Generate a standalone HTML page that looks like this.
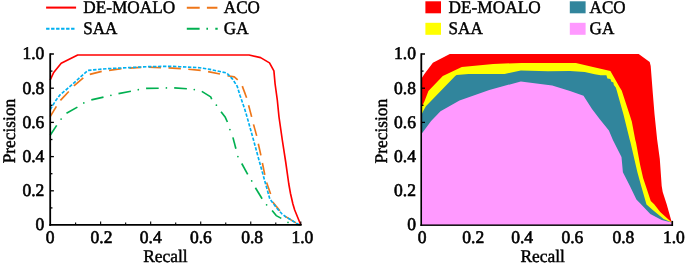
<!DOCTYPE html>
<html><head><meta charset="utf-8"><title>PR curves</title>
<style>
html,body{margin:0;padding:0;background:#fff;}
body{width:685px;height:263px;overflow:hidden;}
svg{display:block;will-change:transform;}
text{font-family:"Liberation Serif",serif;text-rendering:geometricPrecision;fill:#000;stroke:#000;stroke-width:0.45px;}
text.d{stroke-width:0.62px;}
</style></head><body>
<svg width="685" height="263" viewBox="0 0 685 263">
<rect width="685" height="263" fill="#fff"/>

<g fill="none" stroke-width="1.65" stroke-linejoin="round">
<polyline points="50.2,135.3 56.7,125.4" stroke="#00b050"/>
<polyline points="66.5,113.3 77.4,107.1" stroke="#00b050"/>
<polyline points="91.3,99.9 103.5,97.1" stroke="#00b050"/>
<polyline points="118.5,93.6 130.9,91.2" stroke="#00b050"/>
<polyline points="146.1,88.4 158.7,88.2" stroke="#00b050"/>
<polyline points="174.2,87.9 186.9,88.7" stroke="#00b050"/>
<polyline points="201.8,91.4 210.7,96.9 211.7,99.3" stroke="#00b050"/>
<polyline points="221.05,111.7 225.3,117.3 227.4,122" stroke="#00b050"/>
<polyline points="232.9,137.4 235.9,148.7" stroke="#00b050"/>
<polyline points="241.75,163.5 247.7,174.4" stroke="#00b050"/>
<polyline points="255.4,187.8 262.1,198.7" stroke="#00b050"/>
<polyline points="272.1,210.4 276.2,215.6 281.3,218.4" stroke="#00b050"/>
<polyline points="295.8,224.2 300.8,225" stroke="#00b050"/>
<circle cx="61.1" cy="119.1" r="0.85" fill="#00b050" stroke="none"/>
<circle cx="83.8" cy="102.9" r="0.85" fill="#00b050" stroke="none"/>
<circle cx="110.9" cy="95.3" r="0.85" fill="#00b050" stroke="none"/>
<circle cx="138.3" cy="89.7" r="0.85" fill="#00b050" stroke="none"/>
<circle cx="166.4" cy="87.9" r="0.85" fill="#00b050" stroke="none"/>
<circle cx="194.3" cy="89.6" r="0.85" fill="#00b050" stroke="none"/>
<circle cx="216.4" cy="105.2" r="0.85" fill="#00b050" stroke="none"/>
<circle cx="229.9" cy="129.6" r="0.85" fill="#00b050" stroke="none"/>
<circle cx="237.9" cy="156.6" r="0.85" fill="#00b050" stroke="none"/>
<circle cx="251.7" cy="180.9" r="0.85" fill="#00b050" stroke="none"/>
<circle cx="266.6" cy="204.8" r="0.85" fill="#00b050" stroke="none"/>
<circle cx="288" cy="222.4" r="0.85" fill="#00b050" stroke="none"/>
<polyline points="50.2,116.6 56.4,106.4" stroke="#ee7618"/>
<polyline points="60.4,100.4 68.8,91.5" stroke="#ee7618"/>
<polyline points="73.9,85.9 83.3,77.9" stroke="#ee7618"/>
<polyline points="89.8,74.4 101.7,71.4" stroke="#ee7618"/>
<polyline points="109.05,70.4 121.45,68.7" stroke="#ee7618"/>
<polyline points="129.3,68.1 141.2,67.4" stroke="#ee7618"/>
<polyline points="148.7,67.1 161.05,67.7" stroke="#ee7618"/>
<polyline points="168.5,67.9 180.9,68.6" stroke="#ee7618"/>
<polyline points="188.3,69.2 200.7,70.4" stroke="#ee7618"/>
<polyline points="208.1,71.6 220,74" stroke="#ee7618"/>
<polyline points="227.4,75.7 234.3,76.9 237.7,79.9" stroke="#ee7618"/>
<polyline points="242.3,86.1 246.6,97.7" stroke="#ee7618"/>
<polyline points="248.6,105.2 251.65,116.9" stroke="#ee7618"/>
<polyline points="253.5,124.4 256.7,135.9" stroke="#ee7618"/>
<polyline points="258.3,143.8 260.9,155.4" stroke="#ee7618"/>
<polyline points="262.4,163 264.8,174.9" stroke="#ee7618"/>
<polyline points="266.6,182.4 270.6,193.9" stroke="#ee7618"/>
<polyline points="272.7,201.9 279.9,210.7" stroke="#ee7618"/>
<polyline points="284.9,216.1 295.9,222.9" stroke="#ee7618"/>
<polyline points="50.3,109.6 55.4,101 59.9,95 65.9,90 69.4,87 87.8,70.4 107,68.7 127.8,67.7 147.7,66.7 162,66.4 173,66.4 179.9,66.7 199.7,67.7 209.9,69.4 219.9,71.5 226.8,73.0 232.8,79.4 237.2,86.3 240,95.5 244.6,108.8 247.2,117.5 253.5,140 260.2,164.5 265.6,184 269.8,198.9 272.5,202.4 275.5,206.4 278.7,210.4 281.9,213.8 285.7,216.9 290,219.3 294.6,222.1 298.2,224.2 300.8,225" stroke="#00b0f0" stroke-dasharray="3.4 1.6"/>
<polyline points="50.2,80 53.5,72.8 61.2,63.3 77.7,54.95 249.1,54.95 260.6,57.6 269.5,62.9 273.9,70.9 275.1,84 277.3,100 279,117 282.3,140 285.7,162 288.8,184 290.5,193.5 292.9,204 294.7,210 300.8,225" stroke="#ff0000"/>
</g>
<g stroke="#000" fill="none" stroke-linecap="butt">
<path d="M49.30,224.88 H301.7" stroke-width="1.55"/>
<path d="M50.20,225.9 V53.3" stroke-width="1.8"/>
<path d="M75.62,225.0 v-2.5" stroke-width="1.1"/>
<path d="M50.20,207.90 h2.25" stroke-width="1.3"/>
<path d="M100.64,225.0 v-3.4" stroke-width="1.1"/>
<path d="M50.20,190.80 h3.7" stroke-width="1.3"/>
<path d="M125.66,225.0 v-2.5" stroke-width="1.1"/>
<path d="M50.20,173.70 h2.25" stroke-width="1.3"/>
<path d="M150.68,225.0 v-3.4" stroke-width="1.1"/>
<path d="M50.20,156.60 h3.7" stroke-width="1.3"/>
<path d="M175.70,225.0 v-2.5" stroke-width="1.1"/>
<path d="M50.20,139.50 h2.25" stroke-width="1.3"/>
<path d="M200.72,225.0 v-3.4" stroke-width="1.1"/>
<path d="M50.20,122.40 h3.7" stroke-width="1.3"/>
<path d="M225.74,225.0 v-2.5" stroke-width="1.1"/>
<path d="M50.20,105.30 h2.25" stroke-width="1.3"/>
<path d="M250.76,225.0 v-3.4" stroke-width="1.1"/>
<path d="M50.20,88.20 h3.7" stroke-width="1.3"/>
<path d="M275.78,225.0 v-2.5" stroke-width="1.1"/>
<path d="M50.20,71.10 h2.25" stroke-width="1.3"/>
<path d="M300.80,225.0 v-3.4" stroke-width="1.1"/>
<path d="M50.20,54.00 h3.7" stroke-width="1.5"/>
</g>
<text transform="translate(50.0,242.6) scale(0.985,1)" text-anchor="middle" font-size="17.8" class="d">0</text>
<text transform="translate(44.3,230.35) scale(0.985,1)" text-anchor="end" font-size="17.8" class="d">0</text>
<text transform="translate(101.54,242.6) scale(0.985,1)" text-anchor="middle" font-size="17.8" class="d">0.2</text>
<text transform="translate(44.3,196.15) scale(0.985,1)" text-anchor="end" font-size="17.8" class="d">0.2</text>
<text transform="translate(150.78,242.6) scale(0.985,1)" text-anchor="middle" font-size="17.8" class="d">0.4</text>
<text transform="translate(44.3,161.95) scale(0.985,1)" text-anchor="end" font-size="17.8" class="d">0.4</text>
<text transform="translate(200.82,242.6) scale(0.985,1)" text-anchor="middle" font-size="17.8" class="d">0.6</text>
<text transform="translate(44.3,127.75) scale(0.985,1)" text-anchor="end" font-size="17.8" class="d">0.6</text>
<text transform="translate(252.16,242.6) scale(0.985,1)" text-anchor="middle" font-size="17.8" class="d">0.8</text>
<text transform="translate(44.3,93.55) scale(0.985,1)" text-anchor="end" font-size="17.8" class="d">0.8</text>
<text transform="translate(302.4,242.6) scale(0.985,1)" text-anchor="middle" font-size="17.8" class="d">1.0</text>
<text transform="translate(44.3,59.35) scale(0.985,1)" text-anchor="end" font-size="17.8" class="d">1.0</text>
<text transform="translate(14.5,163.3) rotate(-90) scale(0.975,1)" font-size="17.8">Precision</text>
<text transform="translate(143.2,261.5) scale(0.98,1)" text-anchor="start" font-size="17.8" >Recall</text>
<g fill="none" stroke-width="2.05">
<path d="M46.1,7.6 H76.1" stroke="#ff0000"/>
<path d="M46.1,28.75 H76.1" stroke="#00b0f0" stroke-dasharray="3.4 1.6"/>
<path d="M186.8,7.7 H217.4" stroke="#ee7618" stroke-dasharray="12.9 7.2"/>
<path d="M186.8,28.75 H217.7" stroke="#00b050" stroke-dasharray="12.8 6.8 1.6 7.3"/>
</g>
<text transform="translate(83.2,13.35) scale(0.971,1)" text-anchor="start" font-size="17.8" >DE-MOALO</text>
<text transform="translate(83.2,34.3) scale(0.96,1)" text-anchor="start" font-size="17.8" >SAA</text>
<text transform="translate(223.8,13.35) scale(0.96,1)" text-anchor="start" font-size="17.8" >ACO</text>
<text transform="translate(223.8,34.3) scale(0.96,1)" text-anchor="start" font-size="17.8" >GA</text>
<polygon points="421.5,225.0 421.5,78.5 424.2,74.3 432.9,62.7 449.8,54.0 638.7,54.0 649.7,62 650.7,66 652.7,92 654.5,114 657.2,140 659.8,159 661.7,186 662.7,192 666.6,204 671.6,221.8 671.6,225.0" fill="#ff0000"/>
<polygon points="421.5,225.0 421.5,107.5 424.6,101 428.4,90.9 442.8,76 461.8,67.1 493.2,63.9 521.7,62.9 575.9,63.1 593,67.1 610.4,71 619.8,87.4 621.7,90.5 629.4,114 631.8,121.4 635.3,140 636,142.5 640.1,164.7 643.1,178 645.8,186 650.75,200.9 654.2,204.3 660.2,211.9 671.6,222.2 671.6,225.0" fill="#ffff00"/>
<polygon points="421.5,225.0 421.5,114.5 423.5,110.5 425.9,106.2 455.2,76 456.6,75.1 468.5,74.1 504.6,74.1 520.8,70.4 548,71.2 570,71.1 584.7,72 594.7,74.3 600.6,75.3 606.4,75.3 607.4,78.4 610.4,78.9 611.4,81.7 613.4,82.4 613.8,84.9 615.8,87.4 616.6,90 623.6,115 629.8,140 630.5,142.5 637.4,172.3 640.9,185 646.5,204.4 652.75,210 663.7,218.9 671.6,222.4 671.6,225.0" fill="#31859c"/>
<g stroke="#000" fill="none" stroke-linecap="butt">
<path d="M421.30,225.9 V53.3" stroke-width="1.8"/>
<path d="M421.30,207.90 h2.25" stroke-width="1.3"/>
<path d="M421.30,190.80 h3.7" stroke-width="1.3"/>
<path d="M421.30,173.70 h2.25" stroke-width="1.3"/>
<path d="M421.30,156.60 h3.7" stroke-width="1.3"/>
<path d="M421.30,139.50 h2.25" stroke-width="1.3"/>
<path d="M421.30,122.40 h3.7" stroke-width="1.3"/>
<path d="M421.30,105.30 h2.25" stroke-width="1.3"/>
<path d="M421.30,88.20 h3.7" stroke-width="1.3"/>
<path d="M421.30,71.10 h2.25" stroke-width="1.3"/>
<path d="M421.30,54.00 h3.7" stroke-width="1.5"/>
</g>
<polygon points="422.05,225.0 422.05,133.2 431.1,120.9 440.5,111.3 459.5,100.5 489.3,90 520.8,81.4 552.2,85.4 570,90.9 583.5,95.8 592,108.9 600,119.5 608.9,130.4 612.9,140 621.5,157.1 622.9,172.3 629.9,186 636.4,199.4 640.8,204 650.3,213.9 661.7,219.9 671.6,222.6 671.6,225.0" fill="#ff99ff"/>
<rect x="420.4" y="224.45" width="252.60000000000002" height="1.45" fill="#000"/>
<path d="M672.3,225.9 V220.9" stroke="#000" stroke-width="1.6"/>
<text transform="translate(422.2,242.6) scale(0.985,1)" text-anchor="middle" font-size="17.8" class="d">0</text>
<text transform="translate(415.89,230.35) scale(0.985,1)" text-anchor="end" font-size="17.8" class="d">0</text>
<text transform="translate(473.26,242.6) scale(0.985,1)" text-anchor="middle" font-size="17.8" class="d">0.2</text>
<text transform="translate(415.89,196.15) scale(0.985,1)" text-anchor="end" font-size="17.8" class="d">0.2</text>
<text transform="translate(522.12,242.6) scale(0.985,1)" text-anchor="middle" font-size="17.8" class="d">0.4</text>
<text transform="translate(415.89,161.95) scale(0.985,1)" text-anchor="end" font-size="17.8" class="d">0.4</text>
<text transform="translate(572.38,242.6) scale(0.985,1)" text-anchor="middle" font-size="17.8" class="d">0.6</text>
<text transform="translate(415.89,127.75) scale(0.985,1)" text-anchor="end" font-size="17.8" class="d">0.6</text>
<text transform="translate(623.34,242.6) scale(0.985,1)" text-anchor="middle" font-size="17.8" class="d">0.8</text>
<text transform="translate(415.89,93.55) scale(0.985,1)" text-anchor="end" font-size="17.8" class="d">0.8</text>
<text transform="translate(673.9,242.6) scale(0.985,1)" text-anchor="middle" font-size="17.8" class="d">1.0</text>
<text transform="translate(415.89,59.35) scale(0.985,1)" text-anchor="end" font-size="17.8" class="d">1.0</text>
<text transform="translate(387.3,163.4) rotate(-90) scale(0.975,1)" font-size="17.8">Precision</text>
<text transform="translate(520.4,261.5) scale(0.98,1)" text-anchor="start" font-size="17.8" >Recall</text>
<rect x="425.4" y="1.3" width="15.6" height="12" fill="#ff0000"/>
<rect x="425.4" y="22.8" width="15.6" height="12" fill="#ffff00"/>
<rect x="569.8" y="1.3" width="15.8" height="12" fill="#31859c"/>
<rect x="569.8" y="22.8" width="15.8" height="12" fill="#ff99ff"/>
<text transform="translate(448.6,13.35) scale(0.971,1)" text-anchor="start" font-size="17.8" >DE-MOALO</text>
<text transform="translate(448.6,34.3) scale(0.96,1)" text-anchor="start" font-size="17.8" >SAA</text>
<text transform="translate(589.6,13.35) scale(0.96,1)" text-anchor="start" font-size="17.8" >ACO</text>
<text transform="translate(589.6,34.3) scale(0.96,1)" text-anchor="start" font-size="17.8" >GA</text>
</svg></body></html>
